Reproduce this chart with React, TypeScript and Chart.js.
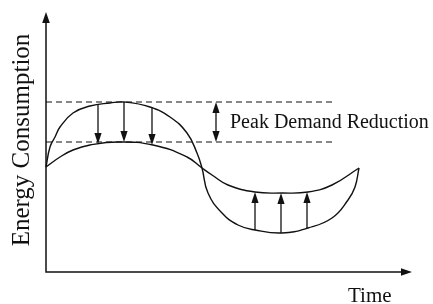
import { useEffect, useRef } from "react";
import { Chart, registerables } from "chart.js";

Chart.register(...registerables);

// Schematic: time on x, energy consumption on y (arbitrary units)
const timeOriginal = [0, 4, 9, 14, 27, 44, 64, 78, 104, 124, 141, 151, 156, 162, 176, 192, 209, 236, 262, 286, 302, 309, 313];
const energyOriginal = [105, 125, 135, 145, 159, 166, 169, 170, 165, 155, 139, 119, 104, 79, 59, 47, 42, 39, 44, 54, 72, 85, 104];

const timeShaved = [0, 14, 27, 44, 72, 107, 141, 156, 166, 182, 209, 236, 262, 286, 313];
const energyShaved = [105, 115, 122, 127, 130, 127, 115, 104, 97, 87, 80, 79, 80, 87, 104];

const peakLevels = [170, 130];
const dashRange = [0, 287];

const shaveArrowTime = [52, 78, 106];
const shaveArrowFrom = [167, 170, 165];
const shaveArrowTo = [128, 130, 127];

const fillArrowTime = [209, 235, 261];
const fillArrowFrom = [42, 39, 44];
const fillArrowTo = [80, 79, 80];

const reductionArrowTime = 170;

const xRange = [0, 366];
const yRange = [0, 260];

const labelReduction = "Peak Demand Reduction";
const labelX = "Time";
const labelY = "Energy Consumption";

const FONT = "'Liberation Serif', 'DejaVu Serif', serif";

function arrowHead(ctx: CanvasRenderingContext2D, x: number, y: number, dir: "up" | "down" | "right", len = 11, half = 3.6) {
  ctx.beginPath();
  if (dir === "up") {
    ctx.moveTo(x, y);
    ctx.lineTo(x - half, y + len);
    ctx.lineTo(x + half, y + len);
  } else if (dir === "down") {
    ctx.moveTo(x, y);
    ctx.lineTo(x - half, y - len);
    ctx.lineTo(x + half, y - len);
  } else {
    ctx.moveTo(x, y);
    ctx.lineTo(x - len, y - half);
    ctx.lineTo(x - len, y + half);
  }
  ctx.closePath();
  ctx.fill();
}

const decorPlugin = {
  id: "decor",
  afterDatasetsDraw(chart: any) {
    const ctx: CanvasRenderingContext2D = chart.ctx;
    const xs = chart.scales.x;
    const ys = chart.scales.y;
    const area = chart.chartArea;
    ctx.save();
    ctx.strokeStyle = "#111";
    ctx.fillStyle = "#111";
    ctx.lineWidth = 1.5;

    // axes
    ctx.beginPath();
    ctx.moveTo(area.left, area.top + 8);
    ctx.lineTo(area.left, area.bottom);
    ctx.lineTo(area.right - 8, area.bottom);
    ctx.stroke();
    arrowHead(ctx, area.left, area.top, "up", 11, 3.8);
    arrowHead(ctx, area.right, area.bottom, "right", 11, 3.8);

    // vertical arrows
    ctx.lineWidth = 1.3;
    const drawArrow = (t: number, from: number, to: number) => {
      const px = xs.getPixelForValue(t);
      const y0 = ys.getPixelForValue(from);
      const y1 = ys.getPixelForValue(to);
      const dir = y1 > y0 ? "down" : "up";
      ctx.beginPath();
      ctx.moveTo(px, y0);
      ctx.lineTo(px, dir === "down" ? y1 - 8 : y1 + 8);
      ctx.stroke();
      arrowHead(ctx, px, y1, dir);
    };
    shaveArrowTime.forEach((t, i) => drawArrow(t, shaveArrowFrom[i], shaveArrowTo[i]));
    fillArrowTime.forEach((t, i) => drawArrow(t, fillArrowFrom[i], fillArrowTo[i]));

    // double arrow for reduction
    const rx = xs.getPixelForValue(reductionArrowTime);
    const rTop = ys.getPixelForValue(peakLevels[0]);
    const rBot = ys.getPixelForValue(peakLevels[1]);
    ctx.beginPath();
    ctx.moveTo(rx, rTop + 8);
    ctx.lineTo(rx, rBot - 8);
    ctx.stroke();
    arrowHead(ctx, rx, rTop, "up");
    arrowHead(ctx, rx, rBot, "down");

    // texts
    ctx.fillStyle = "#111";
    ctx.textAlign = "left";
    ctx.textBaseline = "alphabetic";
    ctx.font = `20px ${FONT}`;
    ctx.fillText(labelReduction, rx + 14, (rTop + rBot) / 2 + 6);

    ctx.font = `21px ${FONT}`;
    ctx.fillText(labelX, area.right - 64, area.bottom + 30);

    ctx.save();
    ctx.translate(area.left - 17, (area.top + area.bottom) / 2 - 2);
    ctx.rotate(-Math.PI / 2);
    ctx.textAlign = "center";
    ctx.font = `25px ${FONT}`;
    ctx.fillText(labelY, 0, 0);
    ctx.restore();

    ctx.restore();
  },
};

export default function App() {
  const ref = useRef<HTMLCanvasElement | null>(null);

  useEffect(() => {
    document.body.style.margin = "0";
    const canvas = ref.current;
    if (!canvas) return;
    const line = (xsArr: number[], ysArr: number[]) => xsArr.map((x, i) => ({ x, y: ysArr[i] }));
    const chart = new Chart(canvas, {
      type: "line",
      data: {
        datasets: [
          {
            data: line(timeOriginal, energyOriginal),
            borderColor: "#111",
            borderWidth: 1.4,
            pointRadius: 0,
            tension: 0.45,
            fill: false,
            clip: false as any,
          },
          {
            data: line(timeShaved, energyShaved),
            borderColor: "#111",
            borderWidth: 1.4,
            pointRadius: 0,
            tension: 0.45,
            fill: false,
            clip: false as any,
          },
          ...peakLevels.map((lvl) => ({
            data: dashRange.map((x) => ({ x, y: lvl })),
            borderColor: "#111",
            borderWidth: 1.2,
            borderDash: [6, 4],
            pointRadius: 0,
            fill: false,
          })),
        ],
      },
      options: {
        animation: false,
        responsive: false,
        devicePixelRatio: 1,
        layout: { padding: { left: 46, right: 21, top: 12, bottom: 32 } },
        plugins: { legend: { display: false }, tooltip: { enabled: false } },
        scales: {
          x: { type: "linear", min: xRange[0], max: xRange[1], display: false },
          y: { type: "linear", min: yRange[0], max: yRange[1], display: false },
        },
      },
      plugins: [decorPlugin],
    });
    return () => chart.destroy();
  }, []);

  return (
    <div style={{ position: "fixed", left: 0, top: 0, width: 433, height: 304, background: "#fff" }}>
      <canvas ref={ref} width={433} height={304} style={{ width: 433, height: 304 }} />
    </div>
  );
}
